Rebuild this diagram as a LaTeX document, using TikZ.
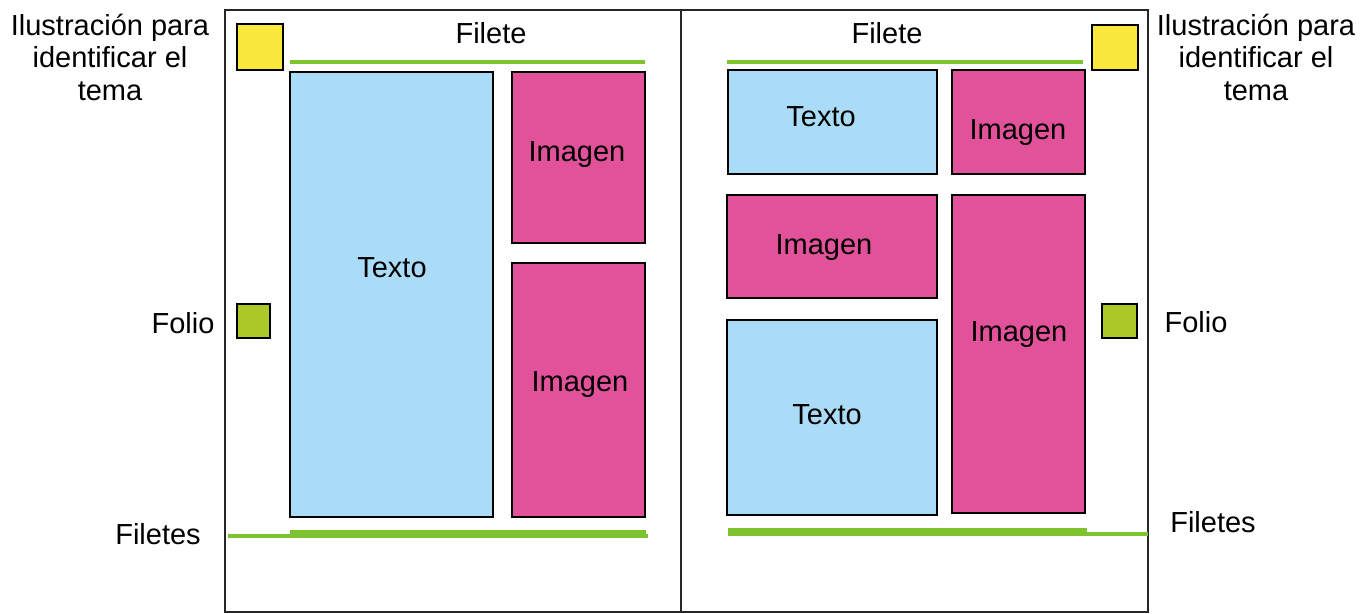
\documentclass[tikz,border=0pt]{standalone}
\usepackage{fontspec}
\setmainfont{Liberation Sans}
\usetikzlibrary{fit}
\definecolor{azultexto}{RGB}{170,220,247}
\definecolor{rosaimagen}{RGB}{226,82,155}
\definecolor{amarillo}{RGB}{250,232,60}
\definecolor{verdefolio}{RGB}{170,200,40}
\definecolor{verdefilete}{RGB}{125,195,45}
\tikzset{% Estilos de la maqueta
texto/.style={draw=black, line width=1.3pt, fill=azultexto, inner sep=0pt},
imagen/.style={draw=black, line width=1.3pt, fill=rosaimagen, inner sep=0pt},
tema/.style={draw=black, line width=1.3pt, fill=amarillo, inner sep=0pt},
folio/.style={draw=black, line width=1.3pt, fill=verdefolio, inner sep=0pt},
filete/.style={verdefilete, line width=2pt},
pagina/.style={draw=black!85, line width=1pt},
rotulo/.style={font=\fontsize{14.5}{16.25}\selectfont, text=black, inner sep=0pt}}

\begin{document}
\begin{tikzpicture}[x=0.5pt, y=-0.5pt]
\useasboundingbox (0,0) rectangle (1360,614);

% paginas
\draw[pagina] (225,10) rectangle (681,612);
\draw[pagina] (681,10) rectangle (1148,612);

% pagina izquierda
\node[tema, fit={(237,24) (283,70)}] (temaIzq) {};
\node[folio, fit={(237,304) (270,338)}] (folioIzq) {};
\node[texto, fit={(290,72) (493,517)}] (textoIzq) {};
\node[imagen, fit={(512,72) (645,243)}] (imgIzqA) {};
\node[imagen, fit={(512,263) (645,517)}] (imgIzqB) {};
\draw[filete] (290,62) -- (645,62);
\draw[filete] (228,536) -- (648,536);
\draw[filete] (290,532) -- (646,532);

% pagina derecha
\node[tema, fit={(1092,25) (1138,70)}] (temaDer) {};
\node[folio, fit={(1102,304) (1137,338)}] (folioDer) {};
\node[texto, fit={(728,70) (937,174)}] (textoDerA) {};
\node[imagen, fit={(952,70) (1085,174)}] (imgDerA) {};
\node[imagen, fit={(727,195) (937,298)}] (imgDerB) {};
\node[imagen, fit={(952,195) (1085,513)}] (imgDerC) {};
\node[texto, fit={(727,320) (937,515)}] (textoDerB) {};
\draw[filete] (727,62) -- (1083,62);
\draw[filete] (728,534) -- (1148,534);
\draw[filete] (728,530) -- (1087,530);

% rotulos de las cajas
\node[rotulo, anchor=base] (lTextoIzq) at (392,278) {Texto};
\node[rotulo, anchor=base] (lImgIzqA) at (577,162) {Imagen};
\node[rotulo, anchor=base] (lImgIzqB) at (580,392) {Imagen};
\node[rotulo, anchor=base] (lTextoDerA) at (821,127) {Texto};
\node[rotulo, anchor=base] (lImgDerA) at (1018,140) {Imagen};
\node[rotulo, anchor=base] (lImgDerB) at (824,255) {Imagen};
\node[rotulo, anchor=base] (lImgDerC) at (1019,342) {Imagen};
\node[rotulo, anchor=base] (lTextoDerB) at (827,425) {Texto};

% rotulos exteriores
\node[rotulo, anchor=base] (fileteIzq) at (491,44) {Filete};
\node[rotulo, anchor=base] (fileteDer) at (887,44) {Filete};
\node[rotulo, align=center] (ilusIzq) at (110,57) {Ilustración para\\identificar el\\tema};
\node[rotulo, align=center] (ilusDer) at (1256,57) {Ilustración para\\identificar el\\tema};
\node[rotulo, anchor=base] (lFolioIzq) at (183,334) {Folio};
\node[rotulo, anchor=base] (lFolioDer) at (1196,333) {Folio};
\node[rotulo, anchor=base] (filetesIzq) at (158,545) {Filetes};
\node[rotulo, anchor=base] (filetesDer) at (1213,532) {Filetes};
\end{tikzpicture}
\end{document}
